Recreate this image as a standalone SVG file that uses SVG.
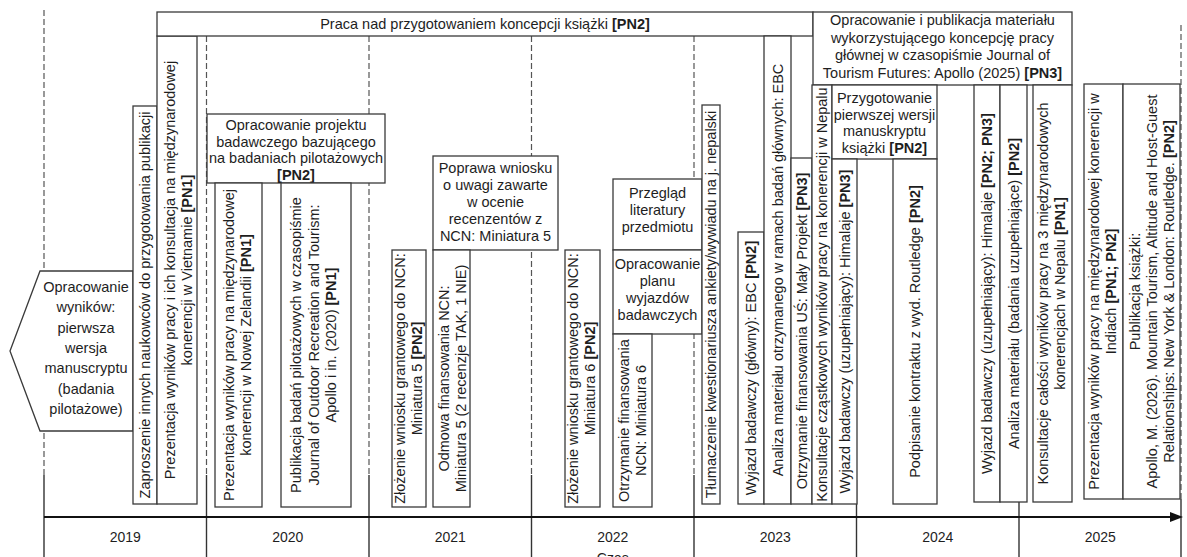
<svg xmlns="http://www.w3.org/2000/svg" width="1187" height="557" viewBox="0 0 1187 557">
<style>
.bx{fill:#fff;stroke:#3a3a3a;stroke-width:1.3}
.t{font-family:"Liberation Sans",Arial,sans-serif;font-size:14.5px;fill:#1e1e1e;text-anchor:middle}
.y{font-family:"Liberation Sans",Arial,sans-serif;font-size:14px;fill:#1e1e1e;text-anchor:middle}
.b{font-weight:bold}
.dl{stroke:#555;stroke-width:1.2;stroke-dasharray:6 3;fill:none}
.sl{stroke:#333;stroke-width:1.4;fill:none}
</style>
<g id="connectors">
<line class="dl" x1="44" y1="10" x2="44" y2="475"/><line class="sl" x1="44" y1="475" x2="44" y2="557"/>
<line class="dl" x1="206.5" y1="36" x2="206.5" y2="475"/><line class="sl" x1="206.5" y1="475" x2="206.5" y2="557"/>
<line class="dl" x1="369" y1="36" x2="369" y2="475"/><line class="sl" x1="369" y1="475" x2="369" y2="557"/>
<line class="dl" x1="531.5" y1="36" x2="531.5" y2="475"/><line class="sl" x1="531.5" y1="475" x2="531.5" y2="557"/>
<line class="dl" x1="694" y1="36" x2="694" y2="475"/><line class="sl" x1="694" y1="475" x2="694" y2="557"/>
<line class="sl" x1="856.5" y1="480" x2="856.5" y2="557"/>
<line class="sl" x1="1019" y1="480" x2="1019" y2="557"/>
<line class="dl" x1="1181" y1="25" x2="1181" y2="499"/><line class="sl" x1="1181" y1="499" x2="1181" y2="557"/>
</g>
<g id="pentagon">
<polygon class="bx" points="10,351 40,271 133,271 133,431 40,431"/>
<text class="t"><tspan x="86" y="292">Opracowanie</tspan><tspan x="86" y="312.3">wyników:</tspan><tspan x="86" y="332.6">pierwsza</tspan><tspan x="86" y="353">wersja</tspan><tspan x="86" y="373.3">manuscryptu</tspan><tspan x="86" y="393.6">(badania</tspan><tspan x="86" y="414">pilotażowe)</tspan></text>
</g>
<g id="zaproszenie">
<rect class="bx" x="133" y="106" width="24" height="398"/>
<text class="t" transform="translate(150,305) rotate(-90)">Zaproszenie innych naukowców do przygotowania publikacji</text>
</g>
<g id="prez-vietnam">
<rect class="bx" x="157" y="36" width="40" height="468"/>
<text class="t" transform="translate(175,270) rotate(-90)"><tspan x="0" y="0">Prezentacja wyników pracy i ich konsultacja na międzynarodowej</tspan><tspan x="0" y="17">konerencji w Vietnamie <tspan class="b">[PN1]</tspan></tspan></text>
</g>
<g id="header-pn2">
<rect class="bx" x="157" y="12" width="656" height="24"/>
<text class="t" x="485" y="29">Praca nad przygotowaniem koncepcji książki <tspan class="b">[PN2]</tspan></text>
</g>
<g id="projekt">
<rect class="bx" x="207" y="114" width="178" height="69"/>
<text class="t"><tspan x="296" y="130">Opracowanie projektu</tspan><tspan x="296" y="146.5">badawczego bazującego</tspan><tspan x="296" y="163">na badaniach pilotażowych</tspan><tspan x="296" y="179.5" class="b">[PN2]</tspan></text>
</g>
<g id="prez-nz">
<rect class="bx" x="215" y="183" width="47" height="324"/>
<text class="t" transform="translate(234,345) rotate(-90)"><tspan x="0" y="0">Prezentacja wyników pracy na międzynarodowej</tspan><tspan x="0" y="17">konerencji w Nowej Zelandii  <tspan class="b">[PN1]</tspan></tspan></text>
</g>
<g id="publ-pilot">
<rect class="bx" x="281" y="183" width="70" height="324"/>
<text class="t" transform="translate(301,345) rotate(-90)"><tspan x="0" y="0">Publikacja badań pilotażowych w czasopiśmie</tspan><tspan x="0" y="17.5">Journal of Outdoor Recreation and Tourism:</tspan><tspan x="0" y="35">Apollo i in. (2020) <tspan class="b">[PN1]</tspan></tspan></text>
</g>
<g id="zlozenie-m5">
<rect class="bx" x="392" y="250" width="34" height="257"/>
<text class="t" transform="translate(405,378.5) rotate(-90)"><tspan x="0" y="0">Złożenie wniosku grantowego do NCN:</tspan><tspan x="0" y="17">Miniatura 5 <tspan class="b">[PN2]</tspan></tspan></text>
</g>
<g id="poprawa">
<rect class="bx" x="433" y="156" width="125" height="94"/>
<text class="t"><tspan x="495.5" y="173">Poprawa wniosku</tspan><tspan x="495.5" y="190">o uwagi zawarte</tspan><tspan x="495.5" y="207">w ocenie</tspan><tspan x="495.5" y="224">recenzentów z</tspan><tspan x="495.5" y="241">NCN: Miniatura 5</tspan></text>
</g>
<g id="odmowa">
<rect class="bx" x="433" y="250" width="37" height="257"/>
<text class="t" transform="translate(449,378.5) rotate(-90)"><tspan x="0" y="0">Odmowa finansowania NCN:</tspan><tspan x="0" y="17">Miniatura 5 (2 recenzje TAK, 1 NIE)</tspan></text>
</g>
<g id="zlozenie-m6">
<rect class="bx" x="565" y="250" width="35" height="257"/>
<text class="t" transform="translate(578,378.5) rotate(-90)"><tspan x="0" y="0">Złożenie wniosku grantowego do NCN:</tspan><tspan x="0" y="17">Miniatura 6 <tspan class="b">[PN2]</tspan></tspan></text>
</g>
<g id="przeglad">
<rect class="bx" x="613" y="179" width="89" height="71"/>
<text class="t"><tspan x="657.5" y="198">Przegląd</tspan><tspan x="657.5" y="215">literatury</tspan><tspan x="657.5" y="232">przedmiotu</tspan></text>
</g>
<g id="plan">
<rect class="bx" x="613" y="250" width="89" height="84"/>
<text class="t"><tspan x="657.5" y="269">Opracowanie</tspan><tspan x="657.5" y="286">planu</tspan><tspan x="657.5" y="303">wyjazdów</tspan><tspan x="657.5" y="320">badawczych</tspan></text>
</g>
<g id="otrzymanie-ncn">
<rect class="bx" x="613" y="334" width="39" height="173"/>
<text class="t" transform="translate(629,420.5) rotate(-90)"><tspan x="0" y="0">Otrzymanie finansowania</tspan><tspan x="0" y="17">NCN: Miniatura 6</tspan></text>
</g>
<g id="tlumaczenie">
<rect class="bx" x="702" y="105" width="18" height="399"/>
<text class="t" transform="translate(716,304.5) rotate(-90)">Tłumaczenie kwestionariusza ankiety/wywiadu na j. nepalski</text>
</g>
<g id="wyjazd-glowny">
<rect class="bx" x="738" y="232" width="26" height="272"/>
<text class="t" transform="translate(756,368) rotate(-90)">Wyjazd badawczy (główny): EBC <tspan class="b">[PN2]</tspan></text>
</g>
<g id="analiza-ebc">
<rect class="bx" x="764" y="36" width="27" height="468"/>
<text class="t" transform="translate(782.5,270) rotate(-90)">Analiza materiału otrzymanego w ramach badań głównych: EBC</text>
</g>
<g id="otrzymanie-us">
<rect class="bx" x="791" y="158" width="21" height="346"/>
<text class="t" transform="translate(806.5,331) rotate(-90)">Otrzymanie finansowania UŚ: Mały Projekt <tspan class="b">[PN3]</tspan></text>
</g>
<g id="header-pn3">
<rect class="bx" x="813" y="12" width="259" height="73"/>
<text class="t"><tspan x="942.5" y="25">Opracowanie i publikacja materiału</tspan><tspan x="942.5" y="42.5">wykorzystującego koncepcję pracy</tspan><tspan x="942.5" y="60">głównej w czasopiśmie Journal of</tspan><tspan x="942.5" y="77.5">Tourism Futures: Apollo (2025) <tspan class="b">[PN3]</tspan></tspan></text>
</g>
<g id="konsultacje-nepal">
<rect class="bx" x="812" y="85" width="20" height="419"/>
<text class="t" transform="translate(827,294.5) rotate(-90)">Konsultacje cząstkowych wyników pracy na konerencji w Nepalu</text>
</g>
<g id="przygotowanie">
<rect class="bx" x="832" y="85" width="105" height="74"/>
<text class="t"><tspan x="884.5" y="103">Przygotowanie</tspan><tspan x="884.5" y="119.5">pierwszej wersji</tspan><tspan x="884.5" y="136">manuskryptu</tspan><tspan x="884.5" y="152.5">książki <tspan class="b">[PN2]</tspan></tspan></text>
</g>
<g id="wyjazd-uz-1">
<rect class="bx" x="832" y="159" width="25" height="345"/>
<text class="t" transform="translate(849.5,331.5) rotate(-90)">Wyjazd badawczy (uzupełniający): Himalaje <tspan class="b">[PN3]</tspan></text>
</g>
<g id="podpisanie">
<rect class="bx" x="893" y="159" width="44" height="345"/>
<text class="t" transform="translate(920,331.5) rotate(-90)">Podpisanie kontraktu z wyd. Routledge <tspan class="b">[PN2]</tspan></text>
</g>
<g id="wyjazd-uz-2">
<rect class="bx" x="974" y="85" width="26" height="417"/>
<text class="t" transform="translate(992,293.5) rotate(-90)">Wyjazd badawczy (uzupełniający): Himalaje <tspan class="b">[PN2; PN3]</tspan></text>
</g>
<g id="analiza-uz">
<rect class="bx" x="1000" y="85" width="27" height="417"/>
<text class="t" transform="translate(1018.5,293.5) rotate(-90)">Analiza materiału (badania uzupełniające) <tspan class="b">[PN2]</tspan></text>
</g>
<g id="konsultacje-3">
<rect class="bx" x="1033" y="85" width="39" height="417"/>
<text class="t" transform="translate(1048,293.5) rotate(-90)"><tspan x="0" y="0">Konsultacje całości wyników pracy na 3 międzynarodowych</tspan><tspan x="0" y="17">konerencjach w Nepalu <tspan class="b">[PN1]</tspan></tspan></text>
</g>
<g id="prez-indie">
<rect class="bx" x="1084" y="84" width="39" height="415"/>
<text class="t" transform="translate(1099,291.5) rotate(-90)"><tspan x="0" y="0">Prezentacja wyników pracy na międzynarodowej konerencji w</tspan><tspan x="0" y="17">Indiach <tspan class="b">[PN1; PN2]</tspan></tspan></text>
</g>
<g id="publikacja-ksiazki">
<rect class="bx" x="1123" y="84" width="57" height="415"/>
<text class="t" transform="translate(1140,291.5) rotate(-90)"><tspan x="0" y="0">Publikacja książki:</tspan><tspan x="0" y="17">Apollo, M. (2026). Mountain Tourism, Altitude and Host-Guest</tspan><tspan x="0" y="34">Relationships: New York &amp; London: Routledge. <tspan class="b">[PN2]</tspan></tspan></text>
</g>
<g id="axis">
<line x1="44" y1="517" x2="1172" y2="517" stroke="#111" stroke-width="2"/>
<polygon points="1170,512 1183,517 1170,522" fill="#111"/>
<text class="y" x="125.25" y="542">2019</text>
<text class="y" x="287.75" y="542">2020</text>
<text class="y" x="450.25" y="542">2021</text>
<text class="y" x="612.75" y="542">2022</text>
<text class="y" x="775.25" y="542">2023</text>
<text class="y" x="937.75" y="542">2024</text>
<text class="y" x="1100.25" y="542">2025</text>
<text class="y" x="612.75" y="563">Czas</text>
</g>
</svg>
